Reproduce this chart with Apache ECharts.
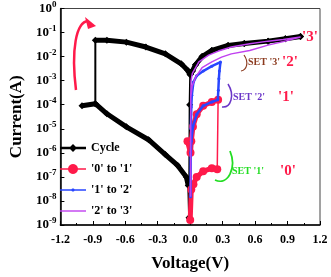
<!DOCTYPE html>
<html><head><meta charset="utf-8">
<script src="https://cdn.jsdelivr.net/npm/echarts@6/dist/echarts.min.js"></script>
<style>html,body{margin:0;padding:0;background:#fff}#c{width:331px;height:277px}</style>
</head><body><div id="c"></div>
<script>
// ---- data (Voltage V, Current A) ----
const xTicks = [-1.2, -0.9, -0.6, -0.3, 0.0, 0.3, 0.6, 0.9, 1.2];
const yMinExp = -9, yMaxExp = 0;

// Cycle (black)
const cycleZero = [[-0.01, 2e-9], [-0.005, 1e-4], [0.0, 1.8e-3]];
const cyclePos = [[0.0, 1.8e-3], [0.02, 2.5e-3], [0.05, 4.6e-3], [0.11, 1e-2], [0.2, 1.8e-2], [0.35, 2.9e-2], [0.5, 3.5e-2], [0.72, 4.4e-2], [0.88, 5.5e-2], [1.02, 6.8e-2]];
const cycleNegHigh = [[-0.01, 2.2e-3], [-0.024, 2.7e-3], [-0.083, 5e-3], [-0.23, 1.3e-2], [-0.41, 2.5e-2], [-0.59, 4e-2], [-0.77, 4.8e-2], [-0.877, 4.8e-2]];
const cycleNegEnd = [[-0.877, 1.1e-4], [-1.0, 9e-5]];
const cycleNegLow = [[-0.877, 1.1e-4], [-0.77, 4.2e-5], [-0.59, 1.2e-5], [-0.385, 3.5e-6], [-0.23, 8.5e-7], [-0.116, 3e-7], [-0.036, 1e-7], [-0.018, 4.4e-8]];
const cycleEnd = [[-0.01, 2e-9]];

// '0' to '1' (red)
const redLow = [[0.0, 1.6e-9], [0.01, 3e-8], [0.03, 5e-8], [0.06, 1e-7], [0.12, 1.7e-7], [0.2, 2.3e-7], [0.25, 2.1e-7]];
const redHigh = [[0.258, 1.6e-4], [0.2, 1.3e-4], [0.12, 9e-5], [0.06, 4e-5], [0.025, 1.2e-5], [0.01, 3e-6], [0.003, 1e-6], [-0.025, 3e-6]];

// '1' to '2' (blue)
const blueData = [[0.003, 1.5e-8], [0.005, 1e-6], [0.01, 3e-6], [0.025, 1.2e-5], [0.06, 4e-5], [0.12, 9e-5], [0.2, 1.3e-4], [0.255, 1.6e-4], [0.26, 4e-4], [0.265, 1.2e-3], [0.27, 2.5e-3], [0.28, 5.9e-3], [0.2, 4e-3], [0.12, 2.5e-3], [0.06, 1.6e-3], [0.03, 8.7e-4], [0.015, 2.5e-4], [0.01, 8e-5], [0.006, 1e-5]];

// '2' to '3' (magenta)
const magUp = [[0.004, 1.5e-8], [0.005, 2e-4], [0.018, 6e-4], [0.05, 1.4e-3], [0.11, 3.5e-3], [0.2, 6e-3], [0.29, 9.5e-3], [0.38, 1.3e-2], [0.55, 1.8e-2], [0.72, 3e-2], [0.86, 4.2e-2], [1.02, 6.5e-2]];
const magDown = [[0.86, 5.2e-2], [0.72, 4.4e-2], [0.55, 3.4e-2], [0.38, 2.5e-2], [0.26, 1.7e-2], [0.17, 1.15e-2], [0.08, 6e-3], [0.02, 2e-3], [0.008, 1e-3], [0.005, 2e-4]];

const names = ['Cycle', "'0' to '1'", "'1' to '2'", "'2' to '3'"];
const colors = ['#000000', '#ff1a4a', '#2846ff', '#c040f0'];

// ---- build ----
const cycleThin = [...cycleZero, ...cyclePos, ...cyclePos.slice().reverse(), ...cycleNegHigh, ...cycleNegEnd, ...cycleNegLow, ...cycleEnd];
const redThin = [...redLow, ...redHigh];
const magData = [...magUp, ...magDown];

// legend icons (line + marker drawn as one path)
function polyCircle(cx, cy, r, n) {
  let s = '';
  for (let i = 0; i < n; i++) {
    const a = 2 * Math.PI * i / n;
    s += (i ? 'L' : 'M') + (cx + r * Math.cos(a)).toFixed(2) + ',' + (cy + r * Math.sin(a)).toFixed(2);
  }
  return s + 'Z';
}
const legendIcons = [
  'path://M0,4.8L26,4.8L26,7.2L0,7.2ZM13,2L17,6L13,10L9,6Z',
  'path://M0,5.2L26,5.2L26,6.8L0,6.8Z' + polyCircle(13, 6, 5, 20),
  'path://M0,5.2L26,5.2L26,6.8L0,6.8Z' + polyCircle(13, 6, 1.7, 10),
  'path://M0,5.3L26,5.3L26,6.7L0,6.7Z'
];

const FONT = 'Liberation Serif';
function thick(name, data, color, width, z) {
  return {name: name, type: 'line', data: data, symbol: 'none', silent: true,
          itemStyle: {color: color}, lineStyle: {color: color, width: width}, z: z};
}
const chart = echarts.init(document.getElementById('c'), null, {renderer: 'canvas'});
chart.setOption({
  animation: false,
  backgroundColor: '#fff',
  grid: {left: 52, right: 11, top: 8, bottom: 51, show: true, borderColor: '#444', borderWidth: 1},
  legend: {
    data: names.map((n, i) => ({name: n, icon: legendIcons[i]})),
    orient: 'vertical', left: 55, top: 137, itemWidth: 26, itemHeight: 14, itemGap: 9, symbolKeepAspect: true,
    textStyle: {fontFamily: FONT, fontWeight: 'bold', fontSize: 12, color: '#000'}
  },
  xAxis: {
    type: 'value', min: xTicks[0], max: xTicks[xTicks.length - 1], interval: 0.3,
    name: 'Voltage(V)', nameLocation: 'middle', nameGap: 30,
    nameTextStyle: {fontFamily: FONT, fontWeight: 'bold', fontSize: 17, color: '#000'},
    axisLine: {onZero: false, lineStyle: {color: '#000', width: 1.5}},
    axisTick: {inside: true, length: 4, lineStyle: {color: '#000', width: 1}},
    minorTick: {show: true, splitNumber: 2, length: 2, lineStyle: {color: '#000'}},
    axisLabel: {margin: 9, fontFamily: FONT, fontWeight: 'bold', fontSize: 12, color: '#000', formatter: v => v.toFixed(1)},
    splitLine: {show: false}
  },
  yAxis: {
    type: 'log', logBase: 10, min: Math.pow(10, yMinExp), max: Math.pow(10, yMaxExp), splitNumber: 9,
    name: 'Current(A)', nameLocation: 'middle', nameGap: 34, nameRotate: 90,
    nameTextStyle: {fontFamily: FONT, fontWeight: 'bold', fontSize: 17, color: '#000'},
    axisLine: {onZero: false, lineStyle: {color: '#000', width: 1.5}},
    axisTick: {inside: true, length: 4, lineStyle: {color: '#000'}},
    axisLabel: {
      margin: 4, fontFamily: FONT, fontWeight: 'bold', color: '#000',
      formatter: v => '{b|10}{s|' + Math.round(Math.log10(v)) + '}',
      rich: {
        b: {fontFamily: FONT, fontWeight: 'bold', fontSize: 13, color: '#000'},
        s: {fontFamily: FONT, fontWeight: 'bold', fontSize: 9, color: '#000', padding: [0, 0, 8, 0]}
      }
    },
    splitLine: {show: false}
  },
  series: [
    {name: names[0], type: 'line', data: cycleThin, symbol: 'diamond', symbolSize: 7, showSymbol: true,
     itemStyle: {color: colors[0]}, lineStyle: {color: colors[0], width: 2}, z: 2},
    thick(names[0], cyclePos, colors[0], 5, 2),
    thick(names[0], cycleNegHigh, colors[0], 5, 2),
    thick(names[0], cycleNegEnd, colors[0], 5, 2),
    thick(names[0], cycleNegLow, colors[0], 5, 2),
    {name: names[1], type: 'line', data: redThin, symbol: 'circle', symbolSize: 8, showSymbol: true,
     itemStyle: {color: colors[1]}, lineStyle: {color: colors[1], width: 1.5}, z: 3},
    thick(names[1], redLow, colors[1], 5, 3),
    thick(names[1], redHigh, colors[1], 5, 3),
    {name: names[2], type: 'line', data: blueData, symbol: 'circle', symbolSize: 3, showSymbol: true,
     itemStyle: {color: colors[2]}, lineStyle: {color: colors[2], width: 2.5}, z: 4},
    {name: names[3], type: 'line', data: magData, symbol: 'none',
     itemStyle: {color: colors[3]}, lineStyle: {color: colors[3], width: 1.5}, z: 5}
  ],
  graphic: [
    // reset arrow (red, top-left)
    {type: 'bezierCurve', shape: {x1: 76, y1: 90, cpx1: 71, cpy1: 50, cpx2: 76, cpy2: 22, x2: 88, y2: 21},
     style: {stroke: '#ff1a4a', lineWidth: 2.5, fill: null}, z: 10},
    {type: 'polygon', shape: {points: [[85, 17], [96, 26], [88, 29]]}, style: {fill: '#ff1a4a'}, z: 10},
    // SET arcs
    {type: 'bezierCurve', shape: {x1: 244, y1: 55, cpx1: 249, cpy1: 62, cpx2: 247, cpy2: 70, x2: 241, y2: 71},
     style: {stroke: '#8b3a1e', lineWidth: 1.2, fill: null}, z: 10},
    {type: 'bezierCurve', shape: {x1: 228, y1: 84, cpx1: 235, cpy1: 95, cpx2: 231, cpy2: 108, x2: 222, y2: 107},
     style: {stroke: '#6a35c8', lineWidth: 1.5, fill: null}, z: 10},
    {type: 'bezierCurve', shape: {x1: 230, y1: 151, cpx1: 237, cpy1: 168, cpx2: 228, cpy2: 186, x2: 215, y2: 180},
     style: {stroke: '#22dd22', lineWidth: 1.8, fill: null}, z: 10},
    // texts
    {type: 'text', left: 302, top: 30, style: {text: "'3'", fill: '#ff1a4a', font: 'bold 15px "Liberation Serif"'}, z: 10},
    {type: 'text', left: 248, top: 57, style: {text: "SET '3'", fill: '#8b3a1e', font: 'bold 10px "Liberation Serif"'}, z: 10},
    {type: 'text', left: 282, top: 55, style: {text: "'2'", fill: '#ff1a4a', font: 'bold 15px "Liberation Serif"'}, z: 10},
    {type: 'text', left: 233, top: 92, style: {text: "SET '2'", fill: '#6a35c8', font: 'bold 10px "Liberation Serif"'}, z: 10},
    {type: 'text', left: 278, top: 90, style: {text: "'1'", fill: '#ff1a4a', font: 'bold 15px "Liberation Serif"'}, z: 10},
    {type: 'text', left: 232, top: 166, style: {text: "SET '1'", fill: '#22dd22', font: 'bold 10px "Liberation Serif"'}, z: 10},
    {type: 'text', left: 280, top: 164, style: {text: "'0'", fill: '#ff1a4a', font: 'bold 15px "Liberation Serif"'}, z: 10}
  ]
});
</script></body></html>
